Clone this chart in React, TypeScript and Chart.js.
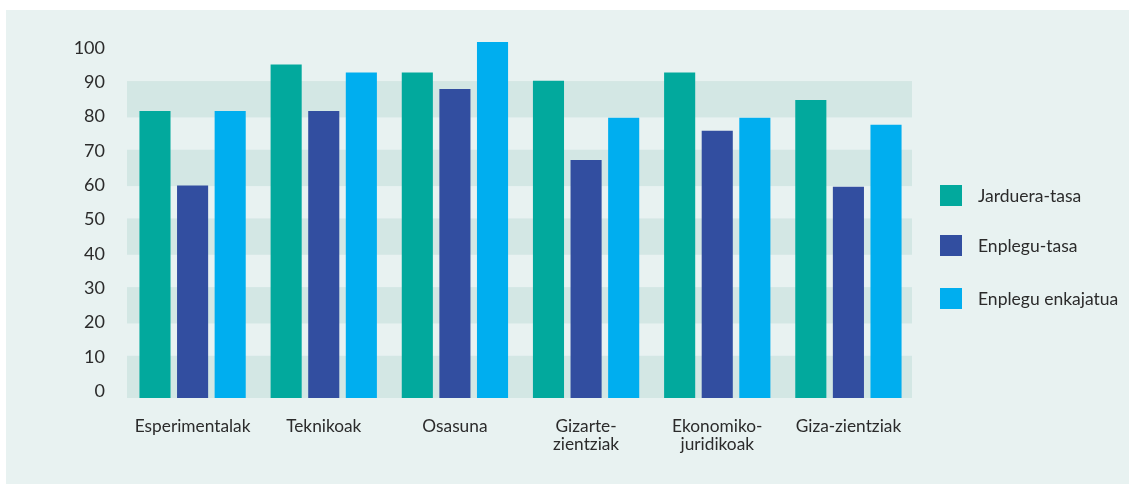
import React, { useEffect, useRef } from 'react';
import { Chart, registerables } from 'chart.js';

Chart.register(...registerables);

const categories: (string | string[])[] = [
  'Esperimentalak',
  'Teknikoak',
  'Osasuna',
  ['Gizarte-', 'zientziak'],
  ['Ekonomiko-', 'juridikoak'],
  'Giza-zientziak',
];
const seriesNames = ['Jarduera-tasa', 'Enplegu-tasa', 'Enplegu enkajatua'];
const jardueraTasa = [81.6, 95.1, 92.8, 90.4, 92.8, 84.8];
const enpleguTasa = [59.9, 81.6, 88.0, 67.3, 75.8, 59.5];
const enpleguEnkajatua = [81.6, 92.8, 101.7, 79.6, 79.6, 77.6];
const yTickValues = [0, 10, 20, 30, 40, 50, 60, 70, 80, 90, 100];
const bandRanges = [
  [0, 10],
  [20, 30],
  [40, 50],
  [60, 70],
  [80, 90],
];

const COLORS = ['#02a99d', '#324ea0', '#00aeef'];
const TEXT = '#2b2b2b';
const BG = '#e8f2f1';
const BAND = '#d3e7e4';
const FONT = 'Lato, "Open Sans", sans-serif';

const bandsPlugin = {
  id: 'bands',
  beforeDatasetsDraw(chart: any) {
    const { ctx, chartArea, scales } = chart;
    const y = scales.y;
    ctx.save();
    ctx.fillStyle = BAND;
    for (const [lo, hi] of bandRanges) {
      const top = y.getPixelForValue(hi) - 1;
      const bottom = lo === 0 ? chartArea.bottom : y.getPixelForValue(lo) + 1;
      ctx.fillRect(chartArea.left, top, chartArea.right - chartArea.left - 2, bottom - top);
    }
    ctx.restore();
  },
};

const legendPlugin = {
  id: 'sideLegend',
  afterDraw(chart: any) {
    const { ctx } = chart;
    const centers = [186, 236, 289];
    const boxX = 934;
    const box = 22;
    ctx.save();
    ctx.font = `17.5px ${FONT}`;
    ctx.textBaseline = 'middle';
    ctx.textAlign = 'left';
    chart.data.datasets.forEach((ds: any, i: number) => {
      const cy = centers[i];
      ctx.fillStyle = ds.backgroundColor;
      ctx.fillRect(boxX, cy - box / 2, box, 21);
      ctx.fillStyle = TEXT;
      ctx.fillText(ds.label, boxX + 38, cy);
    });
    ctx.restore();
  },
};

export default function App() {
  const ref = useRef<HTMLCanvasElement | null>(null);

  useEffect(() => {
    if (!ref.current) return;
    const series = [jardueraTasa, enpleguTasa, enpleguEnkajatua];
    const chart = new Chart(ref.current, {
      type: 'bar',
      data: {
        labels: categories as any,
        datasets: series.map((d, i) => ({
          label: seriesNames[i],
          data: d,
          backgroundColor: COLORS[i],
          borderWidth: 0,
          base: -2,
          barPercentage: 0.827,
          categoryPercentage: 0.86,
        })),
      },
      options: {
        animation: false,
        responsive: false,
        maintainAspectRatio: false,
        layout: { padding: { top: 24, right: 215, left: 0, bottom: 0 } },
        plugins: {
          legend: { display: false },
          tooltip: { enabled: false },
        },
        scales: {
          x: {
            grid: { display: false, drawTicks: false },
            border: { display: false },
            ticks: {
              color: TEXT,
              font: { family: FONT, size: 17.3, lineHeight: '18px' as any },
              padding: 19,
              maxRotation: 0,
              autoSkip: false,
            },
            afterFit(scale: any) {
              scale.height = 86;
              scale.paddingLeft = 0;
              scale.paddingRight = 0;
            },
          },
          y: {
            min: -2,
            max: 104,
            grid: { display: false, drawTicks: false },
            border: { display: false },
            ticks: {
              color: TEXT,
              font: { family: FONT, size: 18 },
              padding: 22,
            },
            afterBuildTicks(scale: any) {
              scale.ticks = yTickValues.map((v) => ({ value: v }));
            },
            afterFit(scale: any) {
              scale.width = 121;
              scale.paddingTop = 0;
              scale.paddingBottom = 0;
            },
          },
        },
      },
      plugins: [bandsPlugin, legendPlugin],
    });
    return () => chart.destroy();
  }, []);

  return (
    <div
      style={{
        position: 'fixed',
        left: 6,
        top: 10,
        width: 1123,
        height: 474,
        background: BG,
      }}
    >
      <canvas ref={ref} width={1123} height={474} style={{ width: 1123, height: 474, display: 'block' }} />
    </div>
  );
}
